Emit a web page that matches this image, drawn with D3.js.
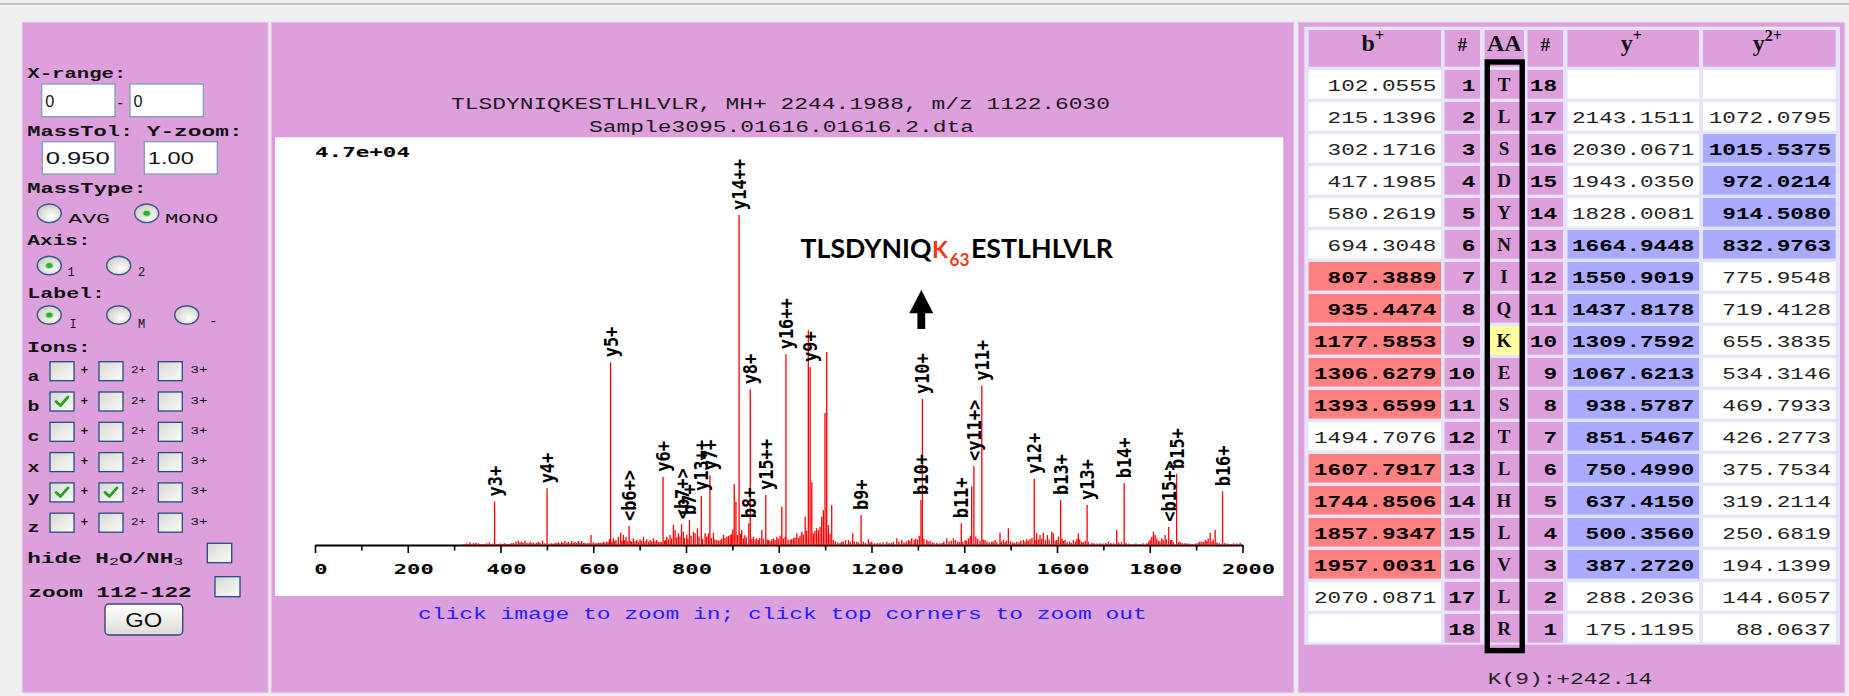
<!DOCTYPE html>
<html>
<head>
<meta charset="utf-8">
<script src="https://cdn.jsdelivr.net/npm/d3@7"></script>
<style>
  html, body { margin: 0; padding: 0; background: #efefef; overflow: hidden; }
  svg { display: block; }
</style>
</head>
<body>
<svg id="page" width="1849" height="696"></svg>
<script>
// ---------------- spectrum data ----------------
const spectrumTitle = "TLSDYNIQKESTLHLVLR, MH+ 2244.1988, m/z 1122.6030";
const spectrumFile = "Sample3095.01616.01616.2.dta";
const maxIntensityText = "4.7e+04";
const maxIntensity = 47000;
const xTickValues = [0, 200, 400, 600, 800, 1000, 1200, 1400, 1600, 1800, 2000];
const xMinorTicks = [100, 300, 500, 700, 900, 1100, 1300, 1500, 1700, 1900];

// assigned fragment ions: [m/z, intensity, label]
const ionPeaks = [
  [387.2720, 6200, "y3+"],
  [500.3560, 8070, "y4+"],
  [637.4150, 26020, "y5+"],
  [677.28, 2700, "<b6+>"],
  [750.4990, 9730, "y6+"],
  [790.36, 2950, "<b7+>"],
  [807.3889, 3560, "b7+"],
  [832.9763, 6980, "y13++"],
  [851.5467, 9930, "y7+"],
  [914.5080, 47000, "y14++"],
  [935.4474, 3100, "b8+"],
  [938.5787, 22170, "y8+"],
  [972.0214, 7120, "y15++"],
  [1015.5375, 27160, "y16++"],
  [1067.6213, 25350, "y9+"],
  [1177.5853, 4270, "b9+"],
  [1306.6279, 6410, "b10+"],
  [1309.7592, 20790, "y10+"],
  [1393.6599, 3090, "b11+"],
  [1420.79, 11250, "<y11+>"],
  [1437.8178, 22680, "y11+"],
  [1550.9019, 9440, "y12+"],
  [1607.7917, 6410, "b13+"],
  [1664.9448, 5700, "y13+"],
  [1744.8506, 8790, "b14+"],
  [1840.91, 2610, "<b15+>"],
  [1857.9347, 10110, "b15+"],
  [1957.0031, 7650, "b16+"]
];

// unassigned peaks: [m/z, intensity]
const otherPeaks = [
  [319.9,140],[323,100],[327,240],[330.5,150],[334,380],[337.5,120],[341.4,240],[344,180],[347,330],[352.2,240],
  [356,130],[361.6,140],[366,110],[370.2,240],[376,380],[380,160],[383,220],[391,130],[395.3,140],[399,200],
  [402.6,100],[406,170],[409.8,240],[413,130],[417,140],[421,190],[424.1,240],[428,300],[433.5,470],[438.5,610],
  [442,350],[445.7,470],[449,280],[452.8,610],[457,300],[460,220],[463.6,470],[467,260],[470.8,330],[475,200],
  [478,290],[481.6,470],[485,320],[490.9,610],[495,240],[505,200],[510.3,240],[514,180],[517.5,330],[521,260],
  [524.7,380],[528,220],[531.9,470],[535,280],[539,610],[543,300],[546.2,470],[550,260],[553.4,570],[557,330],
  [560.6,470],[564,280],[567.8,570],[571,350],[575,570],[579,280],[582.2,330],[587.2,240],[591,300],[595.2,1420],
  [600.2,380],[604,250],[607.4,240],[611,310],[614.6,330],[618,260],[621.8,470],[625,350],[629,470],[632,380],
  [634.7,810],[640,420],[643.3,950],[646,520],[649.1,710],[654.1,1180],[659.2,1750],[662,600],[664.9,1420],[667.5,700],
  [670.7,1180],[674,520],[680.5,600],[683,480],[686.5,950],[690,520],[693.7,710],[697,450],[700.9,810],[704,600],
  [708.1,1180],[711.5,520],[715.3,810],[719,480],[722.5,710],[726,500],[729.7,950],[733,520],[736.9,710],[740,420],
  [744.1,470],[747,380],[753.5,600],[756,700],[758.5,1180],[762,800],[765.7,1420],[769,900],[772.8,2850],[776.4,2130],
  [780,1100],[783.6,1660],[787,1200],[794.4,1900],[797,1000],[801.6,1420],[804,900],[811,1300],[816,1900],[819.6,1660],
  [824.6,2370],[828,1200],[836,900],[841.2,1660],[844.5,1200],[848.4,1660],[855,1000],[859.2,1750],[862.5,800],[866.4,710],
  [870,600],[873.6,710],[877,900],[880.8,1420],[884,1000],[888,1180],[891.5,1300],[895.2,1420],[898.5,1600],[901,2200],
  [904,8690],[907.7,6120],[911,1420],[917.5,1600],[920.2,2130],[923.9,950],[927,1400],[930,1100],[942,900],[945.4,1180],
  [949,800],[952.6,950],[956,700],[959,1000],[963.4,2130],[967,900],[975,800],[977.8,710],[981,600],[985,800],
  [988.6,950],[992,700],[995.8,1180],[999,900],[1003,1300],[1006.6,5450],[1010,900],[1013.8,1180],[1020,800],[1024.6,710],
  [1028,850],[1031.8,950],[1035,1100],[1039,1660],[1043,1000],[1046,1300],[1049.8,1900],[1053,1500],[1057,4030],[1060,2000],
  [1063.8,30600],[1071.3,8930],[1074.6,1660],[1078,2000],[1081.5,2400],[1085.4,2130],[1089,2610],[1092.6,4030],[1096.2,4980],[1099.8,18800],
  [1103.4,27480],[1107,2850],[1110.5,1600],[1114.2,5700],[1117.8,710],[1122,500],[1127,350],[1132.2,330],[1136,500],[1139.4,470],
  [1144,700],[1150.2,710],[1154,450],[1159.5,1660],[1163,500],[1168.2,470],[1172,350],[1182.5,470],[1187,300],[1193.3,810],
  [1197,400],[1200.5,470],[1206,250],[1212,300],[1218.5,330],[1225,400],[1232.9,470],[1238,300],[1243,350],[1247.3,470],
  [1254.5,950],[1259,500],[1265.2,710],[1270,400],[1275,500],[1279.6,710],[1283,600],[1286.8,950],[1292,700],[1295,900],
  [1299,810],[1303,1300],[1313,900],[1319.1,710],[1322,500],[1326.3,610],[1331,400],[1335,300],[1340.7,330],[1347,250],
  [1352,300],[1356,450],[1362.3,950],[1367,500],[1372,600],[1376.7,950],[1381,700],[1386,500],[1390,400],[1397,450],
  [1401.8,710],[1405,600],[1409,950],[1413,1300],[1416,8330],[1425,1200],[1429,900],[1434,600],[1441,800],[1444.7,710],
  [1449,500],[1454,400],[1459.1,470],[1462,500],[1466.3,710],[1470,400],[1477.1,1750],[1480,500],[1484.3,710],[1488,400],
  [1491,600],[1495.1,2370],[1500,500],[1505,400],[1509,300],[1513.1,470],[1518,400],[1522,600],[1527.5,710],[1531,500],
  [1534.7,810],[1538,600],[1541.8,810],[1546,1000],[1553,700],[1556.2,1660],[1560,800],[1563.4,1420],[1567,900],[1570.6,1750],
  [1575,700],[1579.2,1420],[1583,800],[1588.6,1900],[1592.2,1660],[1596,600],[1599.4,710],[1603,1200],[1611,900],[1614,600],
  [1617.4,710],[1622,400],[1627,500],[1631,300],[1635.4,710],[1640,500],[1643,900],[1646.1,1660],[1649,800],[1653.3,470],
  [1657,400],[1661,600],[1668,400],[1674.9,330],[1680,250],[1686,200],[1692.9,240],[1699,200],[1705,300],[1710.9,470],
  [1716,300],[1722,250],[1728.8,2130],[1733,350],[1739,400],[1749,300],[1755,200],[1762,150],[1770,200],[1778,150],
  [1786,250],[1793.6,240],[1798,500],[1801,800],[1804.4,1180],[1808,1900],[1811.6,1420],[1815.2,950],[1819,600],[1822,500],
  [1826,950],[1829,700],[1833.1,1420],[1836,800],[1845,700],[1847.5,710],[1851,400],[1862,400],[1865.5,470],[1870,300],
  [1875,250],[1879.9,240],[1886,200],[1893,150],[1900,250],[1905.1,330],[1908,500],[1912.3,470],[1916,400],[1919.5,710],
  [1923,600],[1926,900],[1930.3,1750],[1934,500],[1937,800],[1941.1,2130],[1945,400],[1950,300],[1962,300],[1968,200],
  [1975,150],[1980.6,240],[1988,200],[1995,330]
];

// ---------------- fragment table data ----------------
const residues = ["T","L","S","D","Y","N","I","Q","K","E","S","T","L","H","L","V","L","R"];
const bIons = ["102.0555","215.1396","302.1716","417.1985","580.2619","694.3048","807.3889","935.4474","1177.5853",
  "1306.6279","1393.6599","1494.7076","1607.7917","1744.8506","1857.9347","1957.0031","2070.0871",""];
const yIons = ["","2143.1511","2030.0671","1943.0350","1828.0081","1664.9448","1550.9019","1437.8178","1309.7592",
  "1067.6213","938.5787","851.5467","750.4990","637.4150","500.3560","387.2720","288.2036","175.1195"];
const y2Ions = ["","1072.0795","1015.5375","972.0214","914.5080","832.9763","775.9548","719.4128","655.3835",
  "534.3146","469.7933","426.2773","375.7534","319.2114","250.6819","194.1399","144.6057","88.0637"];
const bMatched = [7, 8, 9, 10, 11, 13, 14, 15, 16];
const yMatched = [13, 12, 11, 10, 9, 8, 7, 6, 5, 4, 3];
const y2Matched = [16, 15, 14, 13];
const modifiedSite = 9;
const modificationText = "K(9):+242.14";

// annotation above the spectrum
const peptidePrefix = "TLSDYNIQ";
const peptideSite = "K";
const siteNumber = "63";
const peptideSuffix = "ESTLHLVLR";

// ---------------- drawing ----------------
const F_MONO = "'Liberation Mono','DejaVu Sans Mono',monospace";
const F_DV = "'DejaVu Sans Mono',monospace";
const F_SERIF = "'Liberation Serif','DejaVu Serif',serif";
const F_SANS = "'Liberation Sans',Arial,sans-serif";
const F_ANN = "Lato,'Open Sans',sans-serif";
const PLUM = "#dda0dd";

const svg = d3.select("#page");
const defs = svg.append("defs");

function addText(parent, str, o) {
  const t = parent.append("text")
    .attr("x", o.x).attr("y", o.y)
    .attr("font-family", o.family || F_MONO)
    .attr("font-size", o.size || 15)
    .attr("font-weight", o.weight || "normal")
    .attr("fill", o.fill || "#000")
    .attr("text-anchor", o.anchor || "start")
    .text(str);
  if (o.len) t.attr("textLength", o.len).attr("lengthAdjust", "spacingAndGlyphs");
  return t;
}

// gradients for form controls
const gBox = defs.append("linearGradient").attr("id", "boxFill")
  .attr("x1", 0).attr("y1", 0).attr("x2", 1).attr("y2", 1);
gBox.append("stop").attr("offset", "0%").attr("stop-color", "#d8d8d2");
gBox.append("stop").attr("offset", "100%").attr("stop-color", "#fbfbf9");
const gRadio = defs.append("radialGradient").attr("id", "radioFill")
  .attr("cx", "60%").attr("cy", "65%").attr("r", "70%");
gRadio.append("stop").attr("offset", "0%").attr("stop-color", "#ffffff");
gRadio.append("stop").attr("offset", "100%").attr("stop-color", "#c9c9c4");
const gBtn = defs.append("linearGradient").attr("id", "btnFill")
  .attr("x1", 0).attr("y1", 0).attr("x2", 0).attr("y2", 1);
gBtn.append("stop").attr("offset", "0%").attr("stop-color", "#ffffff");
gBtn.append("stop").attr("offset", "100%").attr("stop-color", "#dcdcd6");

// page background and panels
svg.append("rect").attr("width", 1849).attr("height", 696).attr("fill", "#efefef");
svg.append("rect").attr("x", 0).attr("y", 3).attr("width", 1849).attr("height", 2).attr("fill", "#c4c4bc");
svg.append("rect").attr("x", 0).attr("y", 5).attr("width", 1849).attr("height", 1).attr("fill", "#fafafa");
const panels = [[22, 22, 246.5, 671], [271, 22, 1023, 671], [1298, 22, 547, 671]];
svg.selectAll("rect.panel").data(panels).join("rect").attr("class", "panel")
  .attr("x", d => d[0]).attr("y", d => d[1]).attr("width", d => d[2]).attr("height", d => d[3])
  .attr("fill", PLUM).attr("stroke", "#ead8ea").attr("stroke-width", 1.2);

// ---------- left control panel ----------
const left = svg.append("g");
function bold(str, x, yb, len, size) {
  return addText(left, str, { x, y: yb, weight: "bold", len, size: size || 15, fill: "#111" });
}
function inputBox(x, y, w, h, val, len) {
  left.append("rect").attr("x", x).attr("y", y).attr("width", w).attr("height", h)
    .attr("fill", "#fff").attr("stroke", "#7f9db9").attr("stroke-width", 1.3);
  addText(left, val, { x: x + 3.5, y: y + 22.5, family: F_SANS, size: 16, fill: "#111", len });
}
function radio(cx, cy, on) {
  left.append("ellipse").attr("cx", cx).attr("cy", cy).attr("rx", 12).attr("ry", 9.3)
    .attr("fill", "url(#radioFill)").attr("stroke", "#3a5a84").attr("stroke-width", 1.4);
  if (on) {
    left.append("ellipse").attr("cx", cx).attr("cy", cy).attr("rx", 5).attr("ry", 3.8).attr("fill", "#b9e8b0");
    left.append("ellipse").attr("cx", cx).attr("cy", cy).attr("rx", 3.2).attr("ry", 2.5).attr("fill", "#2fae2f");
  }
}
function checkbox(x, y, on, w, h) {
  w = w || 24; h = h || 19;
  left.append("rect").attr("x", x).attr("y", y).attr("width", w).attr("height", h)
    .attr("fill", "url(#boxFill)").attr("stroke", "#1f4f7f").attr("stroke-width", 1.3);
  if (on) {
    left.append("path")
      .attr("d", `M${x + 6},${y + 9.5} L${x + 10.5},${y + 13.5} L${x + 18},${y + 5}`)
      .attr("fill", "none").attr("stroke", "#21a321").attr("stroke-width", 2.8)
      .attr("stroke-linecap", "round").attr("stroke-linejoin", "round");
  }
}

bold("X-range:", 27.3, 77.5, 99);
inputBox(41.7, 84, 73.3, 32.7, "0", 9);
addText(left, "-", { x: 117.5, y: 108, family: F_SANS, size: 16, fill: "#111" });
inputBox(130, 84, 73.3, 32.7, "0", 9);
bold("MassTol:", 27.3, 136, 106);
bold("Y-zoom:", 146.7, 136, 96);
inputBox(42.3, 141.7, 72.7, 32.3, "0.950", 64);
inputBox(144.3, 141.7, 73, 32.3, "1.00", 46);
bold("MassType:", 27.3, 193, 119.4);
radio(49.3, 213.3, false);
addText(left, "AVG", { x: 68.3, y: 222.5, size: 12, fill: "#111", len: 41.7 });
radio(146.7, 213.3, true);
addText(left, "MONO", { x: 165, y: 222.5, size: 12, fill: "#111", len: 53.3 });
bold("Axis:", 27.3, 245, 63.4);
radio(49.3, 265.5, true);
addText(left, "1", { x: 67.5, y: 276, size: 12, fill: "#111" });
radio(118.7, 265.5, false);
addText(left, "2", { x: 138, y: 276, size: 12, fill: "#111" });
bold("Label:", 27.3, 298, 77.7);
radio(49.3, 315, true);
addText(left, "I", { x: 69.5, y: 328.3, size: 12, fill: "#111" });
radio(118.7, 315, false);
addText(left, "M", { x: 138, y: 328.3, size: 12, fill: "#111" });
radio(186.7, 315, false);
addText(left, "-", { x: 209, y: 326, size: 14, fill: "#111" });
bold("Ions:", 27.3, 351.5, 63.4);

const ionRows = ["a", "b", "c", "x", "y", "z"];
const ionChecked = { b: [true, false, false], y: [true, true, false] };
ionRows.forEach((ion, i) => {
  const top = 361.7 + i * 30.3;
  bold(ion, 27.5, top + 19, 12, 15);
  const st = ionChecked[ion] || [false, false, false];
  checkbox(50, top, st[0]);
  addText(left, "+", { x: 80.5, y: top + 12.5, size: 13, weight: "bold", fill: "#111" });
  checkbox(99, top, st[1]);
  addText(left, "2+", { x: 131, y: top + 11.5, size: 11, fill: "#111", len: 15 });
  checkbox(158.3, top, st[2]);
  addText(left, "3+", { x: 190.5, y: top + 11.5, size: 11, fill: "#111", len: 17 });
});

const hide = left.append("text").attr("x", 27.3).attr("y", 563).attr("font-family", F_MONO)
  .attr("font-size", 15).attr("font-weight", "bold").attr("fill", "#111");
hide.append("tspan").text("hide H");
hide.append("tspan").attr("font-size", 11).attr("font-weight", "normal").attr("dy", 2).text("2");
hide.append("tspan").attr("dy", -2).text("O/NH");
hide.append("tspan").attr("font-size", 11).attr("font-weight", "normal").attr("dy", 2).text("3");
hide.attr("textLength", 156).attr("lengthAdjust", "spacingAndGlyphs");
checkbox(207.3, 543.3, false, 24.4, 19.4);
bold("zoom 112-122", 28.3, 596.5, 163.4);
checkbox(215, 576.7, false, 25, 20);
left.append("rect").attr("x", 105).attr("y", 604).attr("width", 77.7).attr("height", 31).attr("rx", 4)
  .attr("fill", "url(#btnFill)").attr("stroke", "#334a6c").attr("stroke-width", 1.4);
addText(left, "GO", { x: 143.8, y: 627, family: F_SANS, size: 21, anchor: "middle", fill: "#111", len: 37 });

// ---------- spectrum panel ----------
const plot = svg.append("g");
plot.append("rect").attr("x", 275).attr("y", 137.3).attr("width", 1008.3).attr("height", 458.7).attr("fill", "#fff");
addText(plot, spectrumTitle, { x: 780.5, y: 108.5, size: 16, anchor: "middle", fill: "#1a1a1a", len: 659 });
addText(plot, spectrumFile, { x: 781.5, y: 131.5, size: 16, anchor: "middle", fill: "#1a1a1a", len: 385 });
addText(plot, maxIntensityText, { x: 315, y: 157.3, family: F_DV, weight: "bold", size: 13.5, len: 95 });
addText(plot, "click image to zoom in; click top corners to zoom out",
  { x: 782.4, y: 618.5, size: 16, anchor: "middle", fill: "#2323ff", len: 729 });

const x = d3.scaleLinear().domain([0, 2000]).range([315, 1242.5]);
const y = d3.scaleLinear().domain([0, maxIntensity]).range([545, 215]);

// minor ticks every 100, major every 200
plot.append("g").attr("transform", "translate(0,545)")
  .call(d3.axisBottom(x).tickValues(xMinorTicks).tickSize(5.5).tickFormat(""))
  .call(g => g.select(".domain").remove())
  .call(g => g.selectAll(".tick line").attr("stroke", "#000").attr("stroke-width", 1.6));
plot.append("g").attr("transform", "translate(0,545)")
  .call(d3.axisBottom(x).tickValues(xTickValues).tickSize(8).tickSizeOuter(0).tickFormat(d => String(d)))
  .call(g => g.select(".domain").attr("stroke", "#000").attr("stroke-width", 2))
  .call(g => g.selectAll(".tick line").attr("stroke", "#000").attr("stroke-width", 1.6))
  .call(g => g.selectAll(".tick text")
    .attr("font-family", F_DV).attr("font-weight", "bold").attr("font-size", 14.5).attr("fill", "#000")
    .attr("x", 5.5).attr("y", 28.5).attr("dy", null)
    .attr("textLength", d => String(d).length * 13.3).attr("lengthAdjust", "spacingAndGlyphs"));

// peaks
const peaks = plot.append("g").attr("stroke", "#ff0000").attr("stroke-width", 1.3);
peaks.selectAll("line.other").data(otherPeaks).join("line").attr("class", "other")
  .attr("x1", d => x(d[0])).attr("x2", d => x(d[0]))
  .attr("y1", y(0)).attr("y2", d => y(d[1]));
peaks.selectAll("line.ion").data(ionPeaks).join("line").attr("class", "ion")
  .attr("x1", d => x(d[0])).attr("x2", d => x(d[0]))
  .attr("y1", y(0)).attr("y2", d => y(d[1]));

// rotated ion labels
plot.append("g").selectAll("text").data(ionPeaks).join("text")
  .attr("transform", d => `translate(${x(d[0])},${y(d[1]) - 5}) rotate(-90) scale(1,1.35)`)
  .attr("dy", 5.2)
  .attr("font-family", F_DV).attr("font-weight", "bold").attr("font-size", 15).attr("fill", "#000")
  .attr("textLength", d => d[2].length * 10.2).attr("lengthAdjust", "spacingAndGlyphs")
  .text(d => d[2]);

// peptide annotation with modified site (site letter and residue number in red);
// each piece is sized so its natural width fills its slot, then placed after the previous one
function fitPiece(str, x0, yb, target, size, fill) {
  const t = addText(plot, str, { x: x0, y: yb, family: F_ANN, weight: "bold", size, fill });
  const w = t.node().getComputedTextLength();
  if (w > 0) t.attr("font-size", size * target / w);
  return x0 + t.node().getComputedTextLength();
}
let ax = fitPiece(peptidePrefix, 800.6, 258.3, 131, 28, "#000");
ax = fitPiece(peptideSite, ax + 0.5, 258.3, 16, 28, "#f03c14");
ax = fitPiece(siteNumber, ax + 1.5, 266.3, 20, 19, "#f03c14");
fitPiece(peptideSuffix, ax + 1.5, 258.3, 142, 28, "#000");
plot.append("path")
  .attr("d", "M909.3,313.3 L921.3,290 L933.3,313.3 L925.2,313.3 L925.2,329 L917.4,329 L917.4,313.3 Z")
  .attr("fill", "#000");

// ---------- fragment ion table ----------
const tbl = svg.append("g");
const cols = [[1308.6, 1441], [1444.6, 1480], [1484.6, 1524], [1527.5, 1563], [1567.5, 1699], [1703, 1835.7]];
const rowTop = r => 70 + 32 * r;
const rowH = 28.6;
tbl.append("rect").attr("x", 1304.3).attr("y", 26.7).attr("width", 535.7).attr("height", 618)
  .attr("fill", "#e6e4f8");
// header
cols.forEach(c => tbl.append("rect").attr("x", c[0]).attr("y", 30).attr("width", c[1] - c[0]).attr("height", 36.7).attr("fill", PLUM));
const headers = [["b", "+"], ["#", ""], ["AA", ""], ["#", ""], ["y", "+"], ["y", "2+"]];
headers.forEach((h, i) => {
  const cx = (cols[i][0] + cols[i][1]) / 2 - (h[1] ? 2 : 0);
  const t = tbl.append("text").attr("x", cx).attr("y", 50.5).attr("text-anchor", "middle")
    .attr("font-family", F_SERIF).attr("font-weight", "bold").attr("font-size", h[0] === "#" ? 19 : 24)
    .attr("fill", "#111");
  t.append("tspan").text(h[0]);
  if (h[1]) t.append("tspan").attr("font-size", 16).attr("dy", -10).text(h[1]);
});

residues.forEach((aa, r) => {
  const num = r + 1, yNum = residues.length - r;
  const top = rowTop(r);
  const cells = [
    { v: bIons[r], fill: bMatched.includes(num) ? "#ff8080" : "#fff", b: bMatched.includes(num) },
    { v: String(num), fill: PLUM, b: true },
    { v: aa, fill: num === modifiedSite ? "#ffffa0" : PLUM, b: true },
    { v: String(yNum), fill: PLUM, b: true },
    { v: yIons[r], fill: yMatched.includes(yNum) ? "#aaaaff" : "#fff", b: yMatched.includes(yNum) },
    { v: y2Ions[r], fill: y2Matched.includes(yNum) ? "#aaaaff" : "#fff", b: y2Matched.includes(yNum) }
  ];
  cells.forEach((c, i) => {
    tbl.append("rect").attr("x", cols[i][0]).attr("y", top).attr("width", cols[i][1] - cols[i][0])
      .attr("height", rowH).attr("fill", c.fill);
    if (!c.v) return;
    if (i === 2) {
      addText(tbl, c.v, { x: 1504, y: top + 20.5, family: F_SERIF, weight: "bold", size: 19, anchor: "middle", fill: "#111" });
    } else {
      const rx = i === 3 ? cols[i][1] - 6 : cols[i][1] - 4.6;
      addText(tbl, c.v, { x: rx, y: top + 20.7, size: 17, anchor: "end", weight: c.b ? "bold" : "normal",
        fill: c.b ? "#000" : "#222", len: c.v.length * 13.6 });
    }
  });
});
// frame around the residue column
tbl.append("rect").attr("x", 1487.3).attr("y", 62).attr("width", 34.9).attr("height", 588.6)
  .attr("fill", "none").attr("stroke", "#000").attr("stroke-width", 5.4);
addText(tbl, modificationText, { x: 1570, y: 684, size: 16, anchor: "middle", fill: "#222", len: 164.5 });
</script>
</body>
</html>
